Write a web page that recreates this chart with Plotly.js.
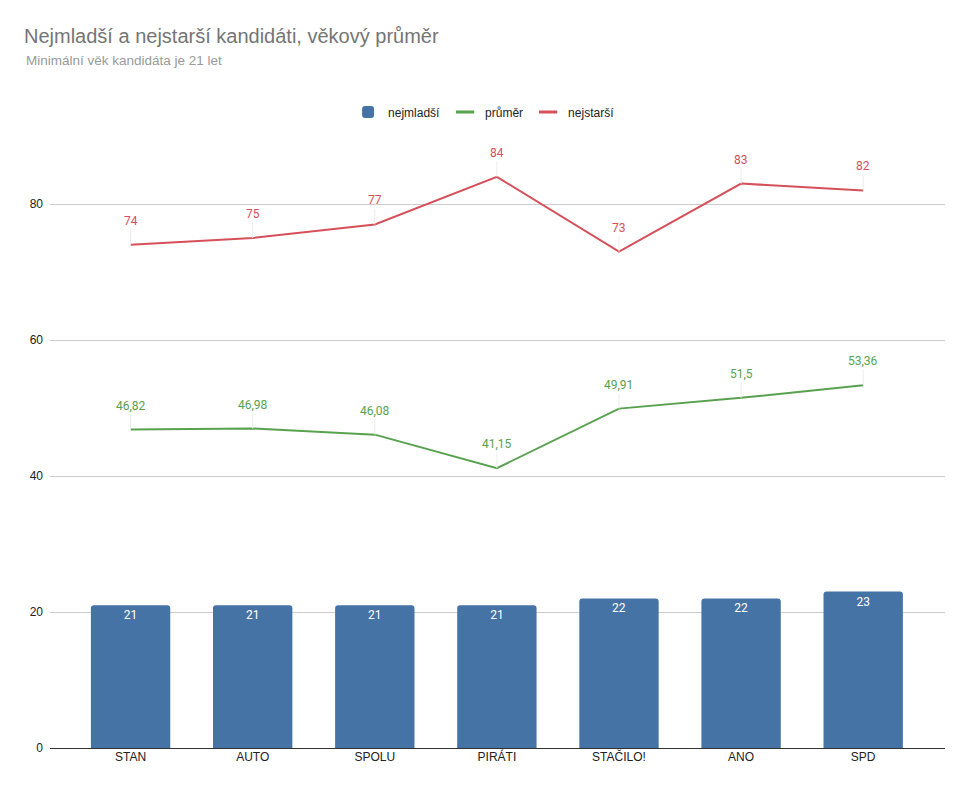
<!DOCTYPE html>
<html>
<head>
<meta charset="utf-8">
<script src="https://cdn.plot.ly/plotly-3.0.1.min.js"></script>
<style>
  html, body { margin: 0; padding: 0; background: #fff; }
  #chart { width: 961px; height: 786px; }
</style>
</head>
<body>
<div id="chart"></div>
<script>
const parties = ['STAN', 'AUTO', 'SPOLU', 'PIRÁTI', 'STAČILO!', 'ANO', 'SPD'];
const youngest = [21, 21, 21, 21, 22, 22, 23];
const average = [46.82, 46.98, 46.08, 41.15, 49.91, 51.5, 53.36];
const oldest = [74, 75, 77, 84, 73, 83, 82];

const BLUE = '#4673a6';
const GREEN = '#58a14e';
const RED = '#d6505a';

// czech decimal comma
const fmt = v => String(v).replace('.', ',');

// legend-only entry with a short line symbol (sheets draws short dashes)
function legendLine(name, color) {
    return {
        type: 'scatter',
        mode: 'markers',
        x: [null],
        y: [null],
        name: name,
        marker: { symbol: 'line-ew', size: 13, color: color, line: { color: color, width: 3 } },
        hoverinfo: 'skip'
    };
}

const traces = [
    {
        type: 'bar',
        x: parties,
        y: youngest,
        name: 'nejmladší',
        marker: { color: BLUE },
        width: 0.65,
        text: youngest.map(fmt),
        textposition: 'inside',
        insidetextanchor: 'end',
        textfont: { color: '#ffffff', size: 12, family: 'Roboto, sans-serif' },
        hoverinfo: 'x+y'
    },
    {
        type: 'scatter',
        mode: 'lines',
        x: parties,
        y: average,
        name: 'průměr',
        showlegend: false,
        line: { color: GREEN, width: 2 }
    },
    {
        type: 'scatter',
        mode: 'lines',
        x: parties,
        y: oldest,
        name: 'nejstarší',
        showlegend: false,
        line: { color: RED, width: 2 }
    },
    legendLine('průměr', GREEN),
    legendLine('nejstarší', RED)
];

// point labels with a faint leader line, like the sheets chart
function pointLabels(values, color) {
    return values.map((v, i) => ({
        x: parties[i],
        y: v,
        xref: 'x',
        yref: 'y',
        text: fmt(v),
        showarrow: true,
        arrowhead: 0,
        arrowwidth: 1,
        arrowcolor: '#ececec',
        ax: 0,
        ay: -24,
        standoff: 0,
        font: { color: color, size: 12, family: 'Roboto, sans-serif' }
    }));
}

const layout = {
    width: 961,
    height: 786,
    margin: { l: 50, r: 16, t: 136, b: 38 },
    paper_bgcolor: '#ffffff',
    plot_bgcolor: '#ffffff',
    font: { family: 'Liberation Sans, Arial, sans-serif', color: '#222222', size: 12 },
    title: {
        text: 'Nejmladší a nejstarší kandidáti, věkový průměr',
        font: { size: 20, color: '#757575' },
        x: 24 / 961,
        xanchor: 'left',
        xref: 'container',
        y: 1 - 36 / 786,
        yref: 'container',
        yanchor: 'middle'
    },
    showlegend: true,
    legend: {
        orientation: 'h',
        x: 0.485,
        xanchor: 'center',
        y: 1 + 24 / 612,
        yanchor: 'middle',
        font: { size: 12, color: '#222222' },
        itemwidth: 30
    },
    xaxis: {
        type: 'category',
        range: [-0.66, 6.67],
        showgrid: false,
        showline: false,
        ticks: '',
        tickfont: { size: 12, color: '#222222' }
    },
    yaxis: {
        range: [0, 90],
        tickvals: [0, 20, 40, 60, 80],
        showgrid: true,
        gridcolor: '#cccccc',
        gridwidth: 1,
        zeroline: true,
        zerolinecolor: '#333333',
        zerolinewidth: 1,
        ticks: '',
        ticklabelstandoff: 6,
        tickfont: { size: 12, color: '#222222' }
    },
    barcornerradius: 3,
    annotations: [
        {
            text: 'Minimální věk kandidáta je 21 let',
            xref: 'paper', yref: 'paper',
            x: -26 / 895, y: 1 + 76 / 612,
            xanchor: 'left', yanchor: 'middle',
            showarrow: false,
            font: { size: 13.5, color: '#9a9a9a' }
        },
        ...pointLabels(average, GREEN),
        ...pointLabels(oldest, RED)
    ]
};

Plotly.newPlot('chart', traces, layout, { displayModeBar: false, staticPlot: true });
</script>
</body>
</html>
